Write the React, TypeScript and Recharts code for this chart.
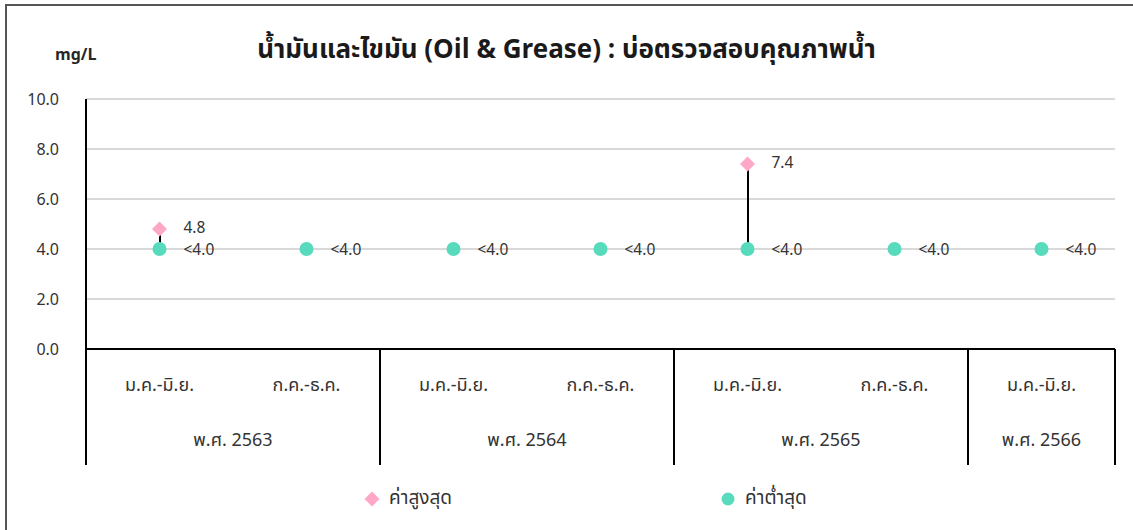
import React from 'react';
import { ComposedChart, Line, Bar, XAxis, YAxis, CartesianGrid, Legend, LabelList } from 'recharts';

const periods = ['ม.ค.-มิ.ย.', 'ก.ค.-ธ.ค.', 'ม.ค.-มิ.ย.', 'ก.ค.-ธ.ค.', 'ม.ค.-มิ.ย.', 'ก.ค.-ธ.ค.', 'ม.ค.-มิ.ย.'];
const years = ['พ.ศ. 2563', 'พ.ศ. 2563', 'พ.ศ. 2564', 'พ.ศ. 2564', 'พ.ศ. 2565', 'พ.ศ. 2565', 'พ.ศ. 2566'];
const maxValues: (number | null)[] = [4.8, null, null, null, 7.4, null, null];
const minValues: number[] = [4.0, 4.0, 4.0, 4.0, 4.0, 4.0, 4.0];
const minLabels: string[] = ['<4.0', '<4.0', '<4.0', '<4.0', '<4.0', '<4.0', '<4.0'];
const yTicks = [0, 2, 4, 6, 8, 10];

const FONT = '"Noto Sans Thai", "Noto Sans", Tahoma, "DejaVu Sans", sans-serif';
const PINK = '#FFA7C6';
const TEAL = '#58DABD';
const TEXT = '#333333';

const data = periods.map((p, i) => ({
  key: `${years[i]}|${i}`,
  period: p,
  year: years[i],
  max: maxValues[i],
  min: minValues[i],
  minLabel: minLabels[i],
  range: maxValues[i] != null ? [minValues[i], maxValues[i] as number] : null,
}));

const XTick = (props: any) => {
  const { x, y, payload, width } = props;
  const i: number = payload.index;
  const half: number = payload.offset != null && payload.offset > 0 ? payload.offset : width / periods.length / 2;
  const start = payload.coordinate - half;
  const isFirst = i === 0 || years[i - 1] !== years[i];
  let count = 0;
  if (isFirst) {
    for (let k = i; k < years.length && years[k] === years[i]; k++) count++;
  }
  const isLast = i === periods.length - 1;
  return (
    <g>
      <text x={x} y={y + 36} textAnchor="middle" dominantBaseline="central" fontSize={18} fill={TEXT} fontFamily={FONT}>
        {periods[i]}
      </text>
      {isFirst && (
        <>
          <line x1={start} x2={start} y1={y} y2={y + 116} stroke="#000" strokeWidth={2} />
          <text x={start + count * half} y={y + 91} textAnchor="middle" dominantBaseline="central" fontSize={18} fill={TEXT} fontFamily={FONT}>
            {years[i]}
          </text>
        </>
      )}
      {isLast && <line x1={start + 2 * half} x2={start + 2 * half} y1={y} y2={y + 116} stroke="#000" strokeWidth={2} />}
    </g>
  );
};

const DiamondDot = (props: any) => {
  const { cx, cy, value } = props;
  if (value == null || cy == null || isNaN(cy)) return <g />;
  const w = 7.5;
  const h = 7.5;
  return <polygon points={`${cx},${cy - h} ${cx + w},${cy} ${cx},${cy + h} ${cx - w},${cy}`} fill={PINK} />;
};

const CircleDot = (props: any) => {
  const { cx, cy, value } = props;
  if (value == null || cy == null || isNaN(cy)) return <g />;
  return <circle cx={cx} cy={cy} r={7} fill={TEAL} />;
};

const PointLabel = (text: (i: number) => string | null, dy: number) => (props: any) => {
  const { x, y, index, value } = props;
  if (value == null) return null;
  const t = text(index);
  if (t == null) return null;
  return (
    <text x={x + 24} y={y + dy} dominantBaseline="central" fontSize={15.5} fill={TEXT} fontFamily={FONT}>
      {t}
    </text>
  );
};

const LegendContent = () => (
  <div style={{ position: 'relative', width: 1133, height: 26, fontFamily: FONT, fontSize: 19, color: TEXT }}>
    <div style={{ position: 'absolute', left: 364, top: 0, display: 'flex', alignItems: 'center', gap: 9 }}>
      <svg width={16} height={16}>
        <polygon points="8,0.5 15.5,8 8,15.5 0.5,8" fill={PINK} />
      </svg>
      <span>ค่าสูงสุด</span>
    </div>
    <div style={{ position: 'absolute', left: 721, top: 0, display: 'flex', alignItems: 'center', gap: 10 }}>
      <svg width={14} height={14}>
        <circle cx={7} cy={7} r={6.5} fill={TEAL} />
      </svg>
      <span>ค่าต่ำสุด</span>
    </div>
  </div>
);

export default function App() {
  return (
    <div style={{ position: 'absolute', left: 0, top: 0, width: 1133, height: 530, background: '#fff', overflow: 'hidden' }}>
      <div style={{ position: 'absolute', left: 5, top: 4, width: 1200, height: 600, borderLeft: '2px solid #555', borderTop: '2px solid #555' }} />
      <div style={{ position: 'absolute', left: 0, top: 30, width: 1133, textAlign: 'center', fontFamily: FONT, fontWeight: 700, fontSize: 26, color: '#1a1a1a', lineHeight: '40px' }}>
        น้ำมันและไขมัน (Oil &amp; Grease) : บ่อตรวจสอบคุณภาพน้ำ
      </div>
      <div style={{ position: 'absolute', left: 55, top: 45, fontFamily: FONT, fontWeight: 700, fontSize: 16, color: '#262626', lineHeight: '20px' }}>
        mg/L
      </div>
      <div style={{ position: 'absolute', left: 0, top: 0 }}>
        <ComposedChart width={1133} height={530} data={data} margin={{ top: 99, right: 18, left: 0, bottom: 65 }}>
          <CartesianGrid horizontal vertical={false} stroke="#d9d9d9" strokeWidth={2} />
          <XAxis
            dataKey="key"
            type="category"
            height={116}
            interval={0}
            tickLine={false}
            tickSize={0}
            tickMargin={0}
            axisLine={{ stroke: '#000', strokeWidth: 2 }}
            tick={<XTick />}
          />
          <YAxis
            width={86}
            domain={[0, 10]}
            ticks={yTicks}
            interval={0}
            tickLine={false}
            tickSize={6}
            tickMargin={21}
            axisLine={{ stroke: '#000', strokeWidth: 2 }}
            tickFormatter={(v: number) => v.toFixed(1)}
            tick={{ fontSize: 16, fill: TEXT, fontFamily: FONT }}
          />
          <Bar dataKey="range" barSize={2} fill="#000" isAnimationActive={false} legendType="none" />
          <Line dataKey="min" name="ค่าต่ำสุด" stroke="none" strokeWidth={0} dot={<CircleDot />} activeDot={false} isAnimationActive={false}>
            <LabelList dataKey="min" content={PointLabel((i) => minLabels[i], 1)} />
          </Line>
          <Line dataKey="max" name="ค่าสูงสุด" stroke="none" strokeWidth={0} dot={<DiamondDot />} activeDot={false} isAnimationActive={false}>
            <LabelList dataKey="max" content={PointLabel((i) => (maxValues[i] != null ? (maxValues[i] as number).toFixed(1) : null), -1)} />
          </Line>
          <Legend
            layout="horizontal"
            verticalAlign="middle"
            align="center"
            content={<LegendContent />}
            wrapperStyle={{ top: 484, left: 0, width: 1133, height: 26 }}
          />
        </ComposedChart>
      </div>
    </div>
  );
}
